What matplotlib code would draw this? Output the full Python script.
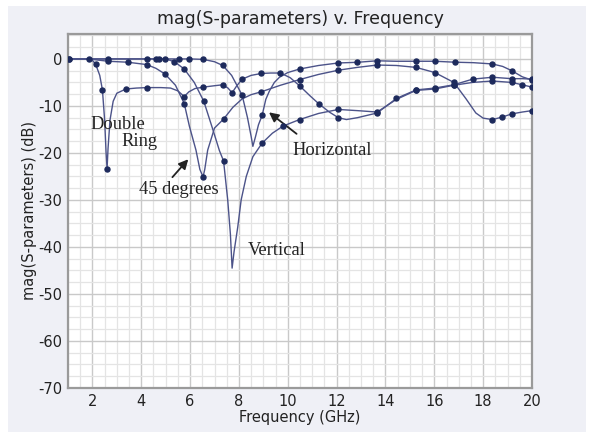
import matplotlib
matplotlib.use("Agg")
import matplotlib.pyplot as plt
from matplotlib.patches import Rectangle
from matplotlib.ticker import MultipleLocator

plt.rcParams['axes.unicode_minus'] = False

# ---- data (frequency in GHz, magnitude in dB) ----
ring_f = [1.0, 1.84, 2.0, 2.13, 2.3, 2.41, 2.5, 2.56, 2.6, 2.64, 2.72, 2.85, 3.0, 3.37, 3.8,
          4.22, 4.8, 5.2, 5.5, 5.76, 5.95, 6.2, 6.54, 7.0, 7.34, 7.55, 7.72, 7.9, 8.13, 8.5,
          8.91, 9.3, 9.7, 10.1, 10.48, 10.9, 11.26, 11.7, 12.07, 12.4, 12.85, 13.66, 14.45,
          15.25, 16.02, 16.8, 17.57, 18.38, 19.17, 19.6, 20.0]
ring_db = [0, 0, -0.3, -1.1, -3.5, -6.6, -13, -20, -23.4, -19, -13, -9, -7.3, -6.4, -6.2,
           -6.1, -6.1, -6.2, -6.8, -8.0, -7.0, -6.3, -6.0, -5.7, -5.5, -6.2, -7.2, -5.8, -4.3, -3.5,
           -3.1, -3.0, -3.0, -4.0, -5.7, -7.8, -9.5, -11.3, -12.5, -12.9, -12.5, -11.5, -8.4,
           -6.6, -6.2, -5.5, -4.3, -3.9, -4.2, -4.2, -4.3]
ring_dot_f = [1.04, 1.84, 2.13, 2.41, 2.6, 3.37, 4.22, 5.76, 6.54, 7.34, 7.72, 8.13, 8.91,
              9.7, 10.48, 11.26, 12.07, 13.66, 14.45, 15.25, 16.02, 16.8, 17.57, 18.38, 19.17, 20.0]
ring_dot_db = [0, 0, -1.1, -6.6, -23.4, -6.4, -6.1, -8.0, -6.0, -5.5, -7.2, -4.3, -3.1,
               -3.0, -5.7, -9.5, -12.5, -11.5, -8.4, -6.6, -6.2, -5.5, -4.3, -3.9, -4.2, -4.3]

deg45_f = [1.0, 1.84, 2.64, 3.44, 4.22, 4.6, 4.97, 5.4, 5.76, 5.97, 6.24, 6.4, 6.53, 6.6,
           6.72, 7.0, 7.37, 7.75, 8.13, 8.5, 8.91, 9.7, 10.48, 11.26, 12.07, 12.85, 13.66,
           14.45, 15.25, 16.02, 16.8, 17.3, 17.7, 18.0, 18.38, 18.76, 19.17, 19.6, 20.0]
deg45_db = [0, 0, -0.5, -0.7, -1.2, -2.0, -3.2, -5.6, -9.5, -14.3, -19.4, -23.5, -25.1, -23.5,
            -19.4, -14.7, -12.8, -10.3, -8.5, -7.6, -7.0, -5.6, -4.4, -3.3, -2.4, -1.8, -1.3,
            -1.4, -1.8, -2.9, -5.0, -8.5, -11.5, -12.6, -12.9, -12.4, -11.7, -11.3, -11.0]
deg45_dot_f = [1.04, 2.64, 3.44, 4.22, 4.97, 5.76, 6.53, 7.37, 8.91, 10.48, 12.07, 13.66,
               15.25, 16.02, 16.8, 18.38, 18.76, 19.17, 20.0]
deg45_dot_db = [0, -0.5, -0.7, -1.2, -3.2, -9.5, -25.1, -12.8, -7.0, -4.4, -2.4, -1.3,
                -1.8, -2.9, -5.0, -12.9, -12.4, -11.7, -11.0]

vert_f = [1.0, 5.0, 5.36, 5.76, 6.17, 6.56, 6.93, 7.2, 7.37, 7.54, 7.65, 7.72, 7.8, 7.95,
          8.09, 8.3, 8.57, 8.95, 9.37, 9.8, 10.48, 11.26, 12.07, 12.85, 13.66, 14.45, 15.25,
          16.02, 16.8, 17.57, 18.38, 19.17, 19.6, 20.0]
vert_db = [0, 0, -0.6, -2.15, -5.0, -9.0, -15, -19.5, -21.7, -30, -37.3, -44.5, -41, -35.8,
           -30, -25, -20.8, -17.9, -15.8, -14.3, -12.9, -11.6, -10.75, -11.0, -11.3, -8.6, -6.7,
           -6.4, -5.6, -5.0, -4.7, -5.0, -5.5, -6.0]
vert_dot_f = [2.64, 4.22, 4.6, 5.36, 5.76, 6.56, 7.37, 8.95, 9.8, 10.48, 12.07, 13.66,
              15.25, 16.02, 16.8, 18.38, 19.17, 19.6, 20.0]
vert_dot_db = [0, 0, 0, -0.6, -2.15, -9.0, -21.7, -17.9, -14.3, -12.9, -10.75, -11.3,
               -6.7, -6.4, -5.6, -4.7, -5.0, -5.5, -6.0]

horiz_f = [1.0, 6.0, 6.54, 7.0, 7.34, 7.7, 8.13, 8.35, 8.5, 8.57, 8.68, 8.8, 8.95, 9.1, 9.25,
           9.45, 9.66, 10.0, 10.48, 11.26, 12.07, 12.85, 13.66, 14.45, 15.25, 16.02, 16.85,
           17.6, 18.38, 18.8, 19.17, 19.6, 20.0]
horiz_db = [0, 0, -0.1, -0.6, -1.4, -3.5, -7.7, -12.5, -16.5, -18.6, -16.5, -14, -12, -8.6, -6.8,
            -5.0, -3.9, -2.9, -2.15, -1.4, -0.86, -0.72, -0.4, -0.5, -0.5, -0.5, -0.7,
            -0.8, -1.07, -1.6, -2.5, -3.8, -4.5]
horiz_dot_f = [4.74, 4.97, 5.56, 5.97, 6.54, 7.34, 8.13, 8.95, 10.48, 12.07, 12.85, 13.66,
               15.25, 16.02, 16.85, 18.38, 19.17, 20.0]
horiz_dot_db = [0, 0, 0, 0, -0.1, -1.4, -7.7, -12, -2.15, -0.86, -0.72, -0.4,
                -0.5, -0.5, -0.7, -1.07, -2.5, -4.5]

curves = [
    (ring_f, ring_db, ring_dot_f, ring_dot_db),
    (deg45_f, deg45_db, deg45_dot_f, deg45_dot_db),
    (vert_f, vert_db, vert_dot_f, vert_dot_db),
    (horiz_f, horiz_db, horiz_dot_f, horiz_dot_db),
]

line_color = '#4c5389'
dot_color = '#1d2a5c'
grid_major = '#c9c9c9'
grid_minor = '#e4e4e4'

fig = plt.figure(figsize=(5.9, 4.32), dpi=100, facecolor='white')
fig.patches.append(Rectangle((8 / 590, 0), 578 / 590, 1 - 6 / 432, transform=fig.transFigure,
                             facecolor='#eff0f6', edgecolor='none', zorder=-10))

# axes box: x 68..532 px, y 34..388 px
ax = fig.add_axes([68 / 590, 1 - 388 / 432, 464 / 590, 354 / 432])
ax.set_facecolor('white')

for f, db, df, ddb in curves:
    ax.plot(f, db, color=line_color, lw=1.0, zorder=3)
    ax.plot(df, ddb, 'o', color=dot_color, ms=3.6, zorder=4)

ax.set_xlim(1, 20)
ax.set_ylim(-70, 5.3)
ax.xaxis.set_major_locator(MultipleLocator(2))
ax.xaxis.set_minor_locator(MultipleLocator(0.5))
ax.yaxis.set_major_locator(MultipleLocator(10))
ax.yaxis.set_minor_locator(MultipleLocator(2.5))
ax.grid(which='major', color=grid_major, lw=1.0, zorder=1)
ax.grid(which='minor', color=grid_minor, lw=0.9, zorder=0)
ax.set_axisbelow(True)
ax.tick_params(which='both', length=0, labelsize=10.5, colors='#222222', pad=4)
for s in ax.spines.values():
    s.set_color('#9a9a9a')
    s.set_linewidth(1.6)

ax.set_xlabel('Frequency (GHz)', fontsize=10.5, color='#222222', labelpad=1)
ax.set_ylabel('mag(S-parameters) (dB)', fontsize=10.5, color='#222222', labelpad=1)
fig.text(300 / 590, 1 - 19 / 432, 'mag(S-parameters) v. Frequency', ha='center', va='center',
         fontsize=12.5, color='#222222')

serif = dict(family='Liberation Serif', fontsize=13.3, color='#222222')
ax.text(1.93, -14.0, 'Double', ha='left', va='center', **serif)
ax.text(3.17, -17.6, 'Ring', ha='left', va='center', **serif)
ax.text(5.55, -27.8, '45 degrees', ha='center', va='center', **serif)
ax.text(8.37, -40.7, 'Vertical', ha='left', va='center', **serif)
ax.text(10.2, -19.5, 'Horizontal', ha='left', va='center', **serif)

arrow = dict(arrowstyle='-|>', color='#222222', lw=1.3, mutation_scale=14)
ax.annotate('', xy=(6.0, -20.9), xytext=(5.2, -25.6), arrowprops=arrow)
ax.annotate('', xy=(9.14, -11.0), xytext=(10.45, -16.3), arrowprops=arrow)

fig.savefig('out.png', dpi=100, facecolor=fig.get_facecolor())
